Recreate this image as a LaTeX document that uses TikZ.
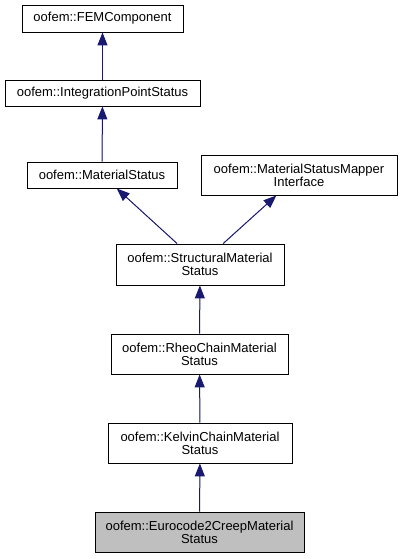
\documentclass[tikz,border=0pt]{standalone}
\usepackage{fontspec}
\setmainfont{Liberation Sans}
\usetikzlibrary{arrows.meta}
\definecolor{edgecol}{RGB}{25,25,112}
\definecolor{hl}{RGB}{191,191,191}
\begin{document}
\begin{tikzpicture}[x=1pt,y=-1pt,
  cls/.style={draw=black,line width=0.9pt,fill=white,inner sep=0pt,align=center,
    font=\fontsize{13}{13}\selectfont},
  edge/.style={draw=edgecol,line width=1pt,-{Triangle[length=13pt,width=10pt]},fill=edgecol}]
\useasboundingbox (0,0) rectangle (401,559);
\node[cls,minimum width=161pt,minimum height=27pt] (fem) at (102.5,18.5) {oofem::FEMComponent};
\node[cls,minimum width=195pt,minimum height=26pt] (ips) at (102.5,93) {oofem::IntegrationPointStatus};
\node[cls,minimum width=150pt,minimum height=26pt] (ms) at (102,175) {oofem::MaterialStatus};
\node[cls,minimum width=196pt,minimum height=40pt] (msm) at (299,175) {oofem::MaterialStatusMapper\\Interface};
\node[cls,minimum width=168pt,minimum height=41pt] (sms) at (200,264.5) {oofem::StructuralMaterial\\Status};
\node[cls,minimum width=177pt,minimum height=40pt] (rcms) at (199.5,354) {oofem::RheoChainMaterial\\Status};
\node[cls,minimum width=184pt,minimum height=40pt] (kcms) at (200,443) {oofem::KelvinChainMaterial\\Status};
\node[cls,fill=hl,minimum width=209pt,minimum height=40pt] (ec) at (199.5,532) {oofem::Eurocode2CreepMaterial\\Status};
\draw[edge] (ips) -- (fem);
\draw[edge] (ms) -- (ips);
\draw[edge] (sms) -- (ms);
\draw[edge] (sms) -- (msm);
\draw[edge] (rcms) -- (sms);
\draw[edge] (kcms) -- (rcms);
\draw[edge] (ec) -- (kcms);
\end{tikzpicture}
\end{document}
